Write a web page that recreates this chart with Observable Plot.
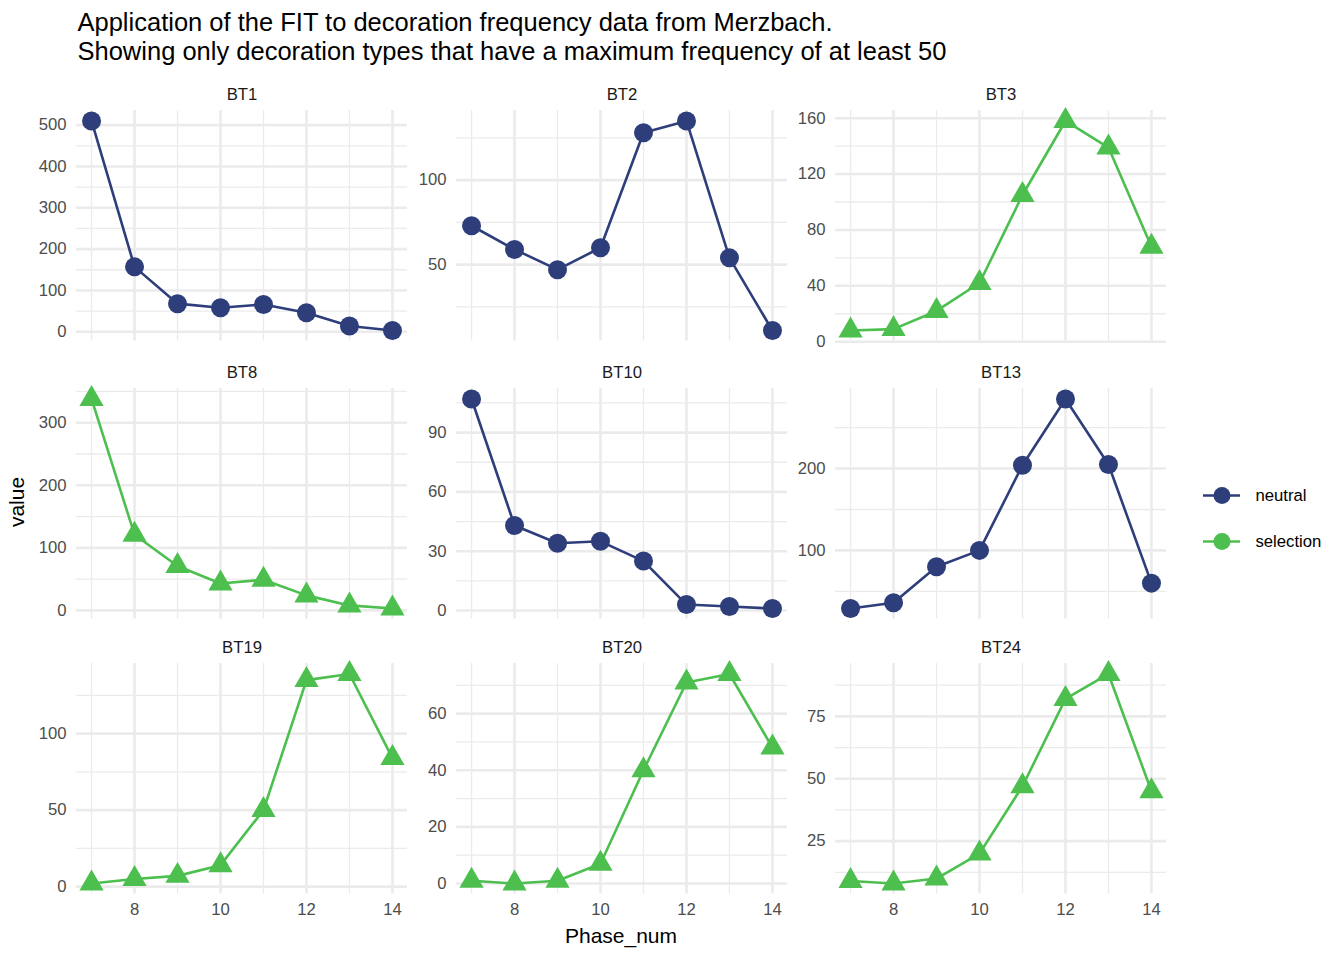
<!DOCTYPE html>
<html><head><meta charset="utf-8">
<script src="https://cdn.jsdelivr.net/npm/d3@7"></script>
<script src="https://cdn.jsdelivr.net/npm/@observablehq/plot@0.6"></script>
<style>
body{margin:0;background:#fff;}
#wrap{position:relative;width:1344px;height:960px;overflow:hidden;background:#fff;font-family:"Liberation Sans",Arial,sans-serif;}
.abs{position:absolute;}
</style></head><body><div id="wrap"></div>
<script>
// ---- data ----
const phases = [7, 8, 9, 10, 11, 12, 13, 14];
const panels = ["BT1", "BT2", "BT3", "BT8", "BT10", "BT13", "BT19", "BT20", "BT24"];
const series = ["neutral", "selection"];
const seriesColors = ["#2D3E7A", "#4CBF4F"];
const panelSeries = ["neutral", "neutral", "selection", "selection", "neutral", "neutral", "selection", "selection", "selection"];

const valuesBT1  = [510, 157, 68, 58, 66, 46, 14, 3];
const valuesBT2  = [73, 59, 47, 60, 128, 135, 54, 11];
const valuesBT3  = [8, 9, 22, 42, 105, 158, 139, 68];
const valuesBT8  = [338, 121, 71, 43, 49, 24, 8, 3];
const valuesBT10 = [107, 43, 34, 35, 25, 3, 2, 1];
const valuesBT13 = [29, 36, 80, 100, 204, 285, 205, 60];
const valuesBT19 = [2, 5, 7, 14, 50, 135, 139, 84];
const valuesBT20 = [1, 0, 1, 7, 40, 71, 74, 48];
const valuesBT24 = [9, 8, 10, 20, 47, 82, 92, 45];

const xMajor = [8, 10, 12, 14];
const xMinor = [7, 9, 11, 13];

const yMajorBT1 = [0, 100, 200, 300, 400, 500];
const yMinorBT1 = [50, 150, 250, 350, 450];
const yMajorBT2 = [50, 100];
const yMinorBT2 = [25, 75, 125];
const yMajorBT3 = [0, 40, 80, 120, 160];
const yMinorBT3 = [20, 60, 100, 140];
const yMajorBT8 = [0, 100, 200, 300];
const yMinorBT8 = [50, 150, 250, 350];
const yMajorBT10 = [0, 30, 60, 90];
const yMinorBT10 = [15, 45, 75, 105];
const yMajorBT13 = [100, 200];
const yMinorBT13 = [50, 150, 250];
const yMajorBT19 = [0, 50, 100];
const yMinorBT19 = [25, 75, 125];
const yMajorBT20 = [0, 20, 40, 60];
const yMinorBT20 = [10, 30, 50, 70];
const yMajorBT24 = [25, 50, 75];
const yMinorBT24 = [12.5, 37.5, 62.5, 87.5];

const titleLines = [
  "Application of the FIT to decoration frequency data from Merzbach.",
  "Showing only decoration types that have a maximum frequency of at least 50"
];
const xTitle = "Phase_num";
const yTitle = "value";

// ---- assemble ----
const valueMap = {BT1: valuesBT1, BT2: valuesBT2, BT3: valuesBT3, BT8: valuesBT8, BT10: valuesBT10,
  BT13: valuesBT13, BT19: valuesBT19, BT20: valuesBT20, BT24: valuesBT24};
const majorMap = {BT1: yMajorBT1, BT2: yMajorBT2, BT3: yMajorBT3, BT8: yMajorBT8, BT10: yMajorBT10,
  BT13: yMajorBT13, BT19: yMajorBT19, BT20: yMajorBT20, BT24: yMajorBT24};
const minorMap = {BT1: yMinorBT1, BT2: yMinorBT2, BT3: yMinorBT3, BT8: yMinorBT8, BT10: yMinorBT10,
  BT13: yMinorBT13, BT19: yMinorBT19, BT20: yMinorBT20, BT24: yMinorBT24};

const wrap = document.getElementById("wrap");
const FONT = "Liberation Sans, Arial, Helvetica, sans-serif";
const colLeft = [76, 455.5, 835];
const rowTop = [110, 387.5, 663];
const panelW = 331, panelH = 230.5;
const GRID = "#EBEBEB";

panels.forEach((name, i) => {
  const row = Math.floor(i / 3), col = i % 3;
  const vals = valueMap[name];
  const kind = panelSeries[i];
  const data = phases.map((p, j) => ({phase: p, value: vals[j], series: kind}));
  const lo = d3.min(vals), hi = d3.max(vals), pad = (hi - lo) * 0.05;
  const mL = 70, mR = 6, mT = 36, mB = row === 2 ? 44 : 6;
  const plot = Plot.plot({
    width: panelW + mL + mR, height: panelH + mT + mB,
    marginLeft: mL, marginRight: mR, marginTop: mT, marginBottom: mB,
    style: {background: "transparent", fontFamily: FONT, fontSize: "16.7px", color: "#4D4D4D", overflow: "visible"},
    x: {domain: [6.65, 14.35], ticks: xMajor, tickSize: 0, tickPadding: 9, label: null, axis: row === 2 ? "bottom" : null},
    y: {domain: [lo - pad, hi + pad], ticks: majorMap[name], tickSize: 0, tickPadding: 10, label: null},
    color: {domain: series, range: seriesColors},
    marks: [
      Plot.ruleX(xMinor, {stroke: GRID, strokeWidth: 1.3}),
      Plot.ruleX(xMajor, {stroke: GRID, strokeWidth: 2.6}),
      Plot.ruleY(minorMap[name], {stroke: GRID, strokeWidth: 1.3}),
      Plot.ruleY(majorMap[name], {stroke: GRID, strokeWidth: 2.6}),
      Plot.line(data, {x: "phase", y: "value", stroke: "series", strokeWidth: 2.6}),
      Plot.dot(data, {x: "phase", y: "value", fill: "series", stroke: "none",
        symbol: kind === "neutral" ? "circle" : "triangle", r: kind === "neutral" ? 9.5 : 9}),
      Plot.text([name], {frameAnchor: "top", lineAnchor: "middle", dy: -15.5, text: d => d, fill: "#1A1A1A", fontSize: 16.7})
    ]
  });
  plot.classList.add("abs");
  plot.style.left = (colLeft[col] - mL) + "px";
  plot.style.top = (rowTop[row] - mT) + "px";
  wrap.appendChild(plot);
});

// legend
const legend = Plot.plot({
  width: 150, height: 100, margin: 0,
  style: {background: "transparent", fontFamily: FONT, fontSize: "16.7px", overflow: "visible"},
  x: {domain: [0, 1], range: [13, 50], axis: null},
  y: {type: "point", domain: series, range: [25, 71.7], padding: 0, axis: null},
  color: {domain: series, range: seriesColors},
  marks: [
    Plot.ruleY(series, {y: d => d, x1: 0, x2: 1, stroke: d => d, strokeWidth: 2.6}),
    Plot.dot(series, {x: 0.5, y: d => d, fill: d => d, r: 8.5, stroke: "none"}),
    Plot.text(series, {x: 1, y: d => d, text: d => d, dx: 15, textAnchor: "start", fill: "#000", fontSize: 16.7})
  ]
});
legend.classList.add("abs");
legend.style.left = "1190px";
legend.style.top = "470px";
wrap.appendChild(legend);

// titles
const svg = d3.select(wrap).append("svg").attr("class", "abs")
  .attr("width", 1344).attr("height", 960).style("left", "0px").style("top", "0px")
  .style("pointer-events", "none").style("font-family", FONT);
svg.selectAll("text.title").data(titleLines).join("text").attr("class", "title")
  .attr("x", 77.5).attr("y", (d, i) => 31 + i * 29).attr("font-size", 25.5).attr("fill", "#000").text(d => d);
svg.append("text").attr("x", 621).attr("y", 943).attr("text-anchor", "middle")
  .attr("font-size", 21).attr("fill", "#000").text(xTitle);
svg.append("text").attr("transform", "translate(24,502) rotate(-90)").attr("text-anchor", "middle")
  .attr("font-size", 21).attr("fill", "#000").text(yTitle);
</script></body></html>
